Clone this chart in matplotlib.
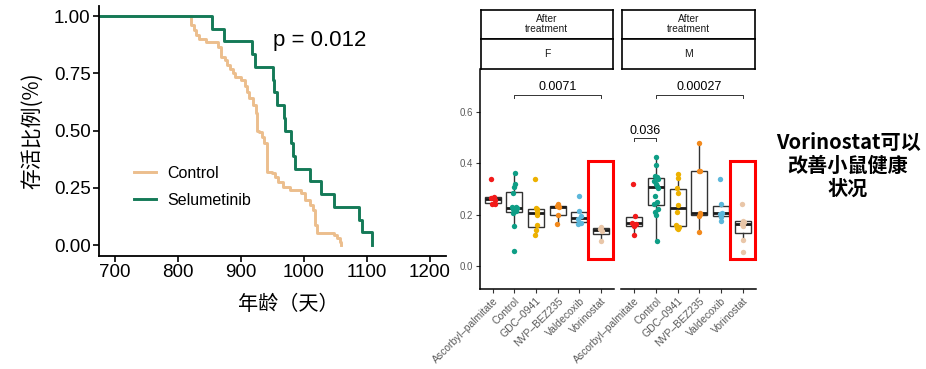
import matplotlib
matplotlib.use("agg")
import matplotlib.pyplot as plt
from matplotlib.patches import Rectangle

plt.rcParams['font.family'] = ['Liberation Sans', 'Noto Sans CJK SC', 'DejaVu Sans']

# ---- survival data ----
control_days = [820, 825, 829, 833, 845, 864, 869, 875, 878, 882, 887, 891, 900, 906, 909,
                912, 919, 924, 925, 928, 933, 937, 941, 942, 949, 954, 959, 967, 978, 996,
                1002, 1010, 1015, 1017, 1020, 1047, 1052, 1057, 1059]
control_surv = [0.96, 0.94, 0.917, 0.90, 0.885, 0.865, 0.82, 0.81, 0.786, 0.767, 0.75, 0.735,
                0.72, 0.694, 0.67, 0.64, 0.61, 0.576, 0.50, 0.495, 0.473, 0.444, 0.43, 0.32,
                0.313, 0.298, 0.276, 0.255, 0.24, 0.226, 0.197, 0.175, 0.153, 0.087, 0.051,
                0.044, 0.029, 0.015, 0.0]
selu_days = [854, 873, 918, 922, 950, 953, 957, 968, 970, 979, 983, 986, 1010, 1027, 1048,
             1087, 1092, 1108]
selu_surv = [0.944, 0.889, 0.833, 0.778, 0.722, 0.667, 0.611, 0.556, 0.5, 0.444, 0.389, 0.333,
             0.278, 0.222, 0.167, 0.111, 0.056, 0.0]

# ---- boxplot data ----
drugs = ["Ascorbyl–palmitate", "Control", "GDC–0941", "NVP–BEZ235", "Valdecoxib", "Vorinostat"]
drug_colors = ["#F21B1B", "#0E9E86", "#EDB100", "#F2891C", "#5BB7DB", "#E9C6A8"]
sexes = ["F", "M"]

f_values = [
    [0.339, 0.27, 0.266, 0.257, 0.24, 0.24],
    [0.361, 0.318, 0.309, 0.283, 0.231, 0.228, 0.224, 0.22, 0.212, 0.207, 0.155, 0.057],
    [0.339, 0.227, 0.22, 0.211, 0.198, 0.158, 0.138, 0.12],
    [0.241, 0.235, 0.23, 0.197, 0.162],
    [0.272, 0.215, 0.195, 0.182, 0.168, 0.165],
    [0.152, 0.145, 0.135, 0.097],
]
f_jitter = [
    [-0.1, 0.05, -0.08, 0.1, -0.05, 0.12],
    [0.02, 0.05, -0.03, -0.08, 0.06, -0.1, 0.1, -0.04, 0.08, -0.06, -0.02, 0.0],
    [-0.05, 0.02, 0.06, 0.04, 0.05, 0.05, 0.02, -0.04],
    [0.02, -0.05, 0.08, 0.0, -0.02],
    [-0.02, 0.0, 0.06, -0.04, 0.08, -0.06],
    [0.0, -0.04, 0.05, 0.0],
]
m_values = [
    [0.318, 0.196, 0.168, 0.163, 0.155, 0.12],
    [0.426, 0.394, 0.352, 0.346, 0.34, 0.33, 0.318, 0.31, 0.303, 0.272, 0.25, 0.24, 0.222,
     0.21, 0.198, 0.097],
    [0.36, 0.342, 0.305, 0.285, 0.238, 0.21, 0.158, 0.152, 0.146, 0.142],
    [0.479, 0.372, 0.37, 0.208, 0.203, 0.195, 0.133],
    [0.338, 0.24, 0.208, 0.203, 0.19, 0.175],
    [0.24, 0.176, 0.17, 0.165, 0.157, 0.1, 0.055],
]
m_jitter = [
    [-0.06, 0.04, -0.1, 0.08, -0.02, -0.03],
    [0.0, 0.02, -0.05, 0.06, 0.09, -0.08, -0.02, 0.04, 0.1, -0.06, 0.05, -0.1, 0.07, -0.03,
     0.01, 0.03],
    [0.0, 0.02, -0.04, 0.02, 0.0, -0.02, -0.08, 0.06, -0.04, 0.03],
    [0.0, 0.0, 0.03, 0.02, 0.05, -0.03, 0.0],
    [-0.03, 0.0, 0.04, -0.05, 0.02, 0.0],
    [-0.05, 0.0, 0.06, -0.04, 0.03, 0.01, 0.0],
]

# significance annotations: (sex, group_a, group_b, label)
comparisons = [("F", 1, 5, "0.0071"), ("M", 1, 5, "0.00027"), ("M", 0, 1, "0.036")]
comparison_y = {"0.0071": 0.668, "0.00027": 0.668, "0.036": 0.498}
highlight = "Vorinostat"

W, H = 926, 369
fig = plt.figure(figsize=(W / 100, H / 100), dpi=100)


def box(x0, y0, x1, y1):
    # pixel box -> figure fraction
    return [x0 / W, 1 - y1 / H, (x1 - x0) / W, (y1 - y0) / H]


# ---------------- survival curve ----------------
ax = fig.add_axes(box(99, 6, 446, 256))
green, tan = "#147A57", "#ECBE8D"
ax.step([0] + control_days, [1.0] + control_surv, where="post", color=tan, lw=2.1, label="Control")
ax.step([0] + selu_days, [1.0] + selu_surv, where="post", color=green, lw=2.1, label="Selumetinib")
ax.set_xlim(674.6, 1225.4)
ax.set_ylim(-0.048, 1.044)
ax.set_xticks([700, 800, 900, 1000, 1100, 1200])
ax.set_yticks([0, 0.25, 0.5, 0.75, 1.0])
ax.set_yticklabels(["0.00", "0.25", "0.50", "0.75", "1.00"])
for s in ["top", "right"]:
    ax.spines[s].set_visible(False)
for s in ["left", "bottom"]:
    ax.spines[s].set_linewidth(1.3)
ax.tick_params(labelsize=13.5, width=1.2, length=4, pad=2, colors="black")
ax.text(1025, 0.895, "p = 0.012", fontsize=16, ha="center", va="center")
ax.set_ylabel("存活比例(%)", fontsize=15, family=["Noto Sans CJK SC", "DejaVu Sans"])
ax.yaxis.set_label_coords(-0.16, 0.5)
ax.set_xlabel("年龄（天）", fontsize=14.5, family=["Noto Sans CJK SC", "DejaVu Sans"])
ax.xaxis.set_label_coords(0.545, -0.15)
ax.legend(loc="center left", bbox_to_anchor=(0.078, 0.276), frameon=False, fontsize=11.5,
          handlelength=1.35, handletextpad=0.7, labelspacing=0.75, borderpad=0)

# ---------------- boxplots ----------------
panel_px = {"F": (479.7, 614.0), "M": (621.3, 755.7)}
for sex, vals, jit in [("F", f_values, f_jitter), ("M", m_values, m_jitter)]:
    x0, x1 = panel_px[sex]
    bx = fig.add_axes(box(x0, 69, x1, 289))
    bx.boxplot(vals, positions=range(len(drugs)), widths=0.75, showfliers=False,
               showcaps=False, patch_artist=True,
               boxprops=dict(facecolor="none", edgecolor="#333333", lw=1.0),
               whiskerprops=dict(color="#333333", lw=1.0),
               medianprops=dict(color="#1a1a1a", lw=2.0))
    for i, (v, j) in enumerate(zip(vals, jit)):
        bx.scatter([i + o for o in j], v, s=15, color=drug_colors[i], zorder=3, lw=0)
    bx.set_xlim(-0.6, 5.6)
    bx.set_ylim(-0.091, 0.769)
    bx.set_xticks(range(len(drugs)))
    bx.set_xticklabels(drugs, rotation=45, ha="right", va="top", rotation_mode="anchor",
                       fontsize=7.5, color="#5a5a5a")
    bx.set_yticks([0.0, 0.2, 0.4, 0.6])
    bx.set_yticklabels(["0.0", "0.2", "0.4", "0.6"], fontsize=7, color="#5a5a5a")
    bx.tick_params(length=3, width=0.8, color="#333333", pad=2)
    for s in ["top", "right"]:
        bx.spines[s].set_visible(False)
    bx.spines["bottom"].set_linewidth(1.1)
    bx.spines["left"].set_linewidth(1.1)
    if sex == "M":
        bx.spines["left"].set_visible(False)
        bx.tick_params(axis="y", left=False, labelleft=False)
    bx.patch.set_alpha(0)

    # significance brackets
    for csex, a, b, lab in comparisons:
        if csex != sex:
            continue
        yb = comparison_y[lab]
        bx.plot([a, a, b, b], [yb - 0.012, yb, yb, yb - 0.012], color="#333333", lw=0.7)
        bx.text((a + b) / 2, yb + 0.006, lab, ha="center", va="bottom", fontsize=9)

    # red highlight box
    k = drugs.index(highlight)
    rect = Rectangle((k - 0.58, 0.025), 1.14, 0.385, fill=False, edgecolor="#FF0000",
                     lw=2.2, clip_on=False, zorder=4)
    bx.add_patch(rect)

    # facet strips
    top = fig.add_axes(box(x0 + 1, 10, x1 - 1, 39))
    low = fig.add_axes(box(x0 + 1, 39, x1 - 1, 69))
    for s_ax, txt, fs in [(top, "After\ntreatment", 7.3), (low, sex, 7.5)]:
        s_ax.set_xticks([])
        s_ax.set_yticks([])
        for sp in s_ax.spines.values():
            sp.set_linewidth(1.2)
        s_ax.text(0.5, 0.5, txt, ha="center", va="center", fontsize=fs, color="#1a1a1a",
                  linespacing=1.0, transform=s_ax.transAxes)

fig.text(848 / W, 1 - 165.7 / H, "Vorinostat可以\n改善小鼠健康\n状况", ha="center", va="center",
         multialignment="center", fontsize=14.5, fontweight="bold", linespacing=1.12,
         family=["Noto Sans CJK SC", "DejaVu Sans"])

fig.savefig("out.png", dpi=100)
